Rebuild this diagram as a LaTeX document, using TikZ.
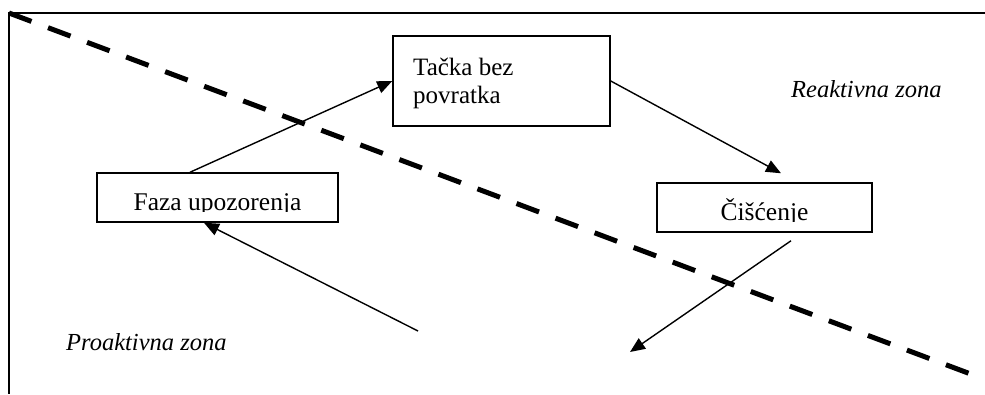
\documentclass[tikz,border=0pt]{standalone}
\usepackage{fontspec}
\setmainfont{Liberation Serif}
\usetikzlibrary{arrows.meta}
\begin{document}
\begin{tikzpicture}[x=1pt,y=-1pt]
\tikzset{
 box/.style={draw, line width=1.5pt, inner sep=0pt},
 lbl/.style={inner sep=0pt, anchor=base west, font=\fontsize{25}{28}\selectfont},
 lblc/.style={inner sep=0pt, anchor=base, font=\fontsize{25.5}{28}\selectfont},
 zone/.style={inner sep=0pt, anchor=base west, font=\fontsize{24.5}{28}\selectfont\itshape},
 conn/.style={line width=1.4pt, -{Triangle[length=15pt,width=12.5pt]}},
 frameline/.style={line width=1.8pt},
 divider/.style={line width=5pt, dash pattern=on 24pt off 17.7pt}
}
\useasboundingbox (0,0) rectangle (985,394);
% frame
\coordinate (fTL) at (9,13);
\coordinate (fTR) at (985,13);
\coordinate (fBL) at (9,394);
\draw[frameline] (fTR) -- (fTL) -- (fBL);
% boxes
\node[box, minimum width=241pt, minimum height=49pt] (faza) at (217.5,197.5) {};
\node[box, minimum width=217pt, minimum height=90pt] (tacka) at (501.5,81) {};
\node[box, minimum width=215pt, minimum height=49pt] (cisc) at (764.5,207.5) {};
% texts
\node[lbl] (tackaA) at (413,75) {Tačka bez};
\node[lbl] (tackaB) at (413,103) {povratka};
\begin{scope}
\clip (97,173) rectangle (338,211);
\node[lblc] (fazatxt) at (217.5,210) {Faza upozorenja};
\end{scope}
\begin{scope}
\clip (657,183) rectangle (872,221.5);
\node[lblc] (cisctxt) at (764.5,220.5) {Čišćenje};
\end{scope}
\node[zone] (reak) at (791,97) {Reaktivna zona};
\node[zone] (proak) at (66,350) {Proaktivna zona};
% connectors
\draw[conn] ([xshift=-27.5pt]faza.north) -- (tacka.west);
\draw[conn] (tacka.east) -- ([xshift=16.5pt,yshift=9pt]cisc.north);
\coordinate (a3tail) at (418,331);
\draw[conn] (a3tail) -- ([xshift=-13.5pt]faza.south);
\coordinate (a4tip) at (630,352);
\draw[conn] ([xshift=26.5pt,yshift=-8pt]cisc.south) -- (a4tip);
% divider
\coordinate (dA) at (9,13);
\coordinate (dB) at (976,376);
\draw[divider] (dA) -- (dB);
\end{tikzpicture}
\end{document}
